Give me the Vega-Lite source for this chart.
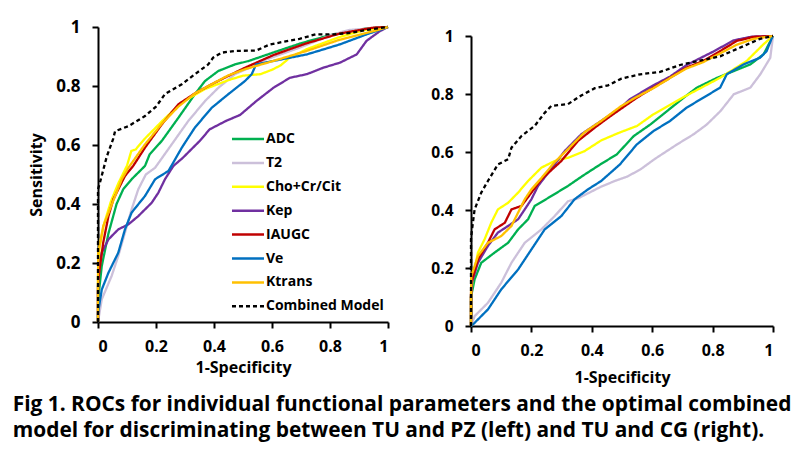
{
  "$schema": "https://vega.github.io/schema/vega-lite/v6.json",
  "background": "white",
  "padding": {"left": 12, "top": 18, "right": 5, "bottom": 5},
  "bounds": "flush",
  "spacing": 83,
  "config": {
    "font": "Open Sans",
    "view": {"stroke": null},
    "axis": {"domainColor": "black", "domainWidth": 2, "tickColor": "black", "tickWidth": 2, "tickSize": 6, "labelColor": "black", "labelFont": "Open Sans", "labelFontWeight": "bold", "labelFontSize": 16, "titleFont": "Open Sans", "titleFontWeight": "bold", "titleFontSize": 16, "titleColor": "black", "grid": false, "labelPadding": 10}
  },
  "title": {
    "text": ["Fig 1. ROCs for individual functional parameters and the optimal combined", "model for discriminating between TU and PZ (left) and TU and CG (right)."],
    "orient": "bottom", "anchor": "start", "font": "Open Sans", "fontSize": 20.9, "fontWeight": "bold", "color": "black", "lineHeight": 26, "offset": 9, "dx": -16
  },
  "datasets": {
    "left": [
      {"series": "ADC", "fpr": 0, "tpr": 0}, {"series": "ADC", "fpr": 0.003, "tpr": 0.1}, {"series": "ADC", "fpr": 0.013, "tpr": 0.19}, {"series": "ADC", "fpr": 0.036, "tpr": 0.3}, {"series": "ADC", "fpr": 0.064, "tpr": 0.4}, {"series": "ADC", "fpr": 0.087, "tpr": 0.45}, {"series": "ADC", "fpr": 0.116, "tpr": 0.484}, {"series": "ADC", "fpr": 0.162, "tpr": 0.529}, {"series": "ADC", "fpr": 0.178, "tpr": 0.568}, {"series": "ADC", "fpr": 0.22, "tpr": 0.614}, {"series": "ADC", "fpr": 0.277, "tpr": 0.692}, {"series": "ADC", "fpr": 0.334, "tpr": 0.772}, {"series": "ADC", "fpr": 0.369, "tpr": 0.817}, {"series": "ADC", "fpr": 0.415, "tpr": 0.851}, {"series": "ADC", "fpr": 0.472, "tpr": 0.873}, {"series": "ADC", "fpr": 0.52, "tpr": 0.885}, {"series": "ADC", "fpr": 0.603, "tpr": 0.913}, {"series": "ADC", "fpr": 0.7, "tpr": 0.945}, {"series": "ADC", "fpr": 0.81, "tpr": 0.975}, {"series": "ADC", "fpr": 0.925, "tpr": 0.995}, {"series": "ADC", "fpr": 1, "tpr": 1},
      {"series": "T2", "fpr": 0, "tpr": 0}, {"series": "T2", "fpr": 0.013, "tpr": 0.077}, {"series": "T2", "fpr": 0.047, "tpr": 0.156}, {"series": "T2", "fpr": 0.07, "tpr": 0.224}, {"series": "T2", "fpr": 0.093, "tpr": 0.303}, {"series": "T2", "fpr": 0.116, "tpr": 0.382}, {"series": "T2", "fpr": 0.139, "tpr": 0.45}, {"series": "T2", "fpr": 0.165, "tpr": 0.5}, {"series": "T2", "fpr": 0.197, "tpr": 0.523}, {"series": "T2", "fpr": 0.254, "tpr": 0.602}, {"series": "T2", "fpr": 0.311, "tpr": 0.681}, {"series": "T2", "fpr": 0.369, "tpr": 0.749}, {"series": "T2", "fpr": 0.415, "tpr": 0.794}, {"series": "T2", "fpr": 0.472, "tpr": 0.84}, {"series": "T2", "fpr": 0.523, "tpr": 0.862}, {"series": "T2", "fpr": 0.58, "tpr": 0.89}, {"series": "T2", "fpr": 0.695, "tpr": 0.93}, {"series": "T2", "fpr": 0.81, "tpr": 0.975}, {"series": "T2", "fpr": 0.868, "tpr": 0.99}, {"series": "T2", "fpr": 1, "tpr": 1},
      {"series": "Cho+Cr/Cit", "fpr": 0, "tpr": 0}, {"series": "Cho+Cr/Cit", "fpr": 0, "tpr": 0.15}, {"series": "Cho+Cr/Cit", "fpr": 0.005, "tpr": 0.25}, {"series": "Cho+Cr/Cit", "fpr": 0.02, "tpr": 0.33}, {"series": "Cho+Cr/Cit", "fpr": 0.045, "tpr": 0.41}, {"series": "Cho+Cr/Cit", "fpr": 0.07, "tpr": 0.47}, {"series": "Cho+Cr/Cit", "fpr": 0.1, "tpr": 0.53}, {"series": "Cho+Cr/Cit", "fpr": 0.115, "tpr": 0.58}, {"series": "Cho+Cr/Cit", "fpr": 0.13, "tpr": 0.585}, {"series": "Cho+Cr/Cit", "fpr": 0.16, "tpr": 0.62}, {"series": "Cho+Cr/Cit", "fpr": 0.22, "tpr": 0.68}, {"series": "Cho+Cr/Cit", "fpr": 0.29, "tpr": 0.745}, {"series": "Cho+Cr/Cit", "fpr": 0.37, "tpr": 0.79}, {"series": "Cho+Cr/Cit", "fpr": 0.45, "tpr": 0.82}, {"series": "Cho+Cr/Cit", "fpr": 0.5, "tpr": 0.835}, {"series": "Cho+Cr/Cit", "fpr": 0.56, "tpr": 0.84}, {"series": "Cho+Cr/Cit", "fpr": 0.6, "tpr": 0.855}, {"series": "Cho+Cr/Cit", "fpr": 0.63, "tpr": 0.87}, {"series": "Cho+Cr/Cit", "fpr": 0.66, "tpr": 0.895}, {"series": "Cho+Cr/Cit", "fpr": 0.72, "tpr": 0.925}, {"series": "Cho+Cr/Cit", "fpr": 0.83, "tpr": 0.965}, {"series": "Cho+Cr/Cit", "fpr": 0.92, "tpr": 0.99}, {"series": "Cho+Cr/Cit", "fpr": 1, "tpr": 1},
      {"series": "Kep", "fpr": 0, "tpr": 0}, {"series": "Kep", "fpr": 0, "tpr": 0.12}, {"series": "Kep", "fpr": 0.005, "tpr": 0.19}, {"series": "Kep", "fpr": 0.013, "tpr": 0.235}, {"series": "Kep", "fpr": 0.036, "tpr": 0.28}, {"series": "Kep", "fpr": 0.07, "tpr": 0.314}, {"series": "Kep", "fpr": 0.105, "tpr": 0.331}, {"series": "Kep", "fpr": 0.139, "tpr": 0.359}, {"series": "Kep", "fpr": 0.185, "tpr": 0.404}, {"series": "Kep", "fpr": 0.208, "tpr": 0.438}, {"series": "Kep", "fpr": 0.231, "tpr": 0.484}, {"series": "Kep", "fpr": 0.26, "tpr": 0.529}, {"series": "Kep", "fpr": 0.293, "tpr": 0.557}, {"series": "Kep", "fpr": 0.35, "tpr": 0.613}, {"series": "Kep", "fpr": 0.385, "tpr": 0.653}, {"series": "Kep", "fpr": 0.44, "tpr": 0.681}, {"series": "Kep", "fpr": 0.49, "tpr": 0.702}, {"series": "Kep", "fpr": 0.546, "tpr": 0.749}, {"series": "Kep", "fpr": 0.605, "tpr": 0.794}, {"series": "Kep", "fpr": 0.662, "tpr": 0.828}, {"series": "Kep", "fpr": 0.72, "tpr": 0.84}, {"series": "Kep", "fpr": 0.777, "tpr": 0.862}, {"series": "Kep", "fpr": 0.834, "tpr": 0.879}, {"series": "Kep", "fpr": 0.892, "tpr": 0.907}, {"series": "Kep", "fpr": 0.926, "tpr": 0.953}, {"series": "Kep", "fpr": 0.972, "tpr": 0.986}, {"series": "Kep", "fpr": 1, "tpr": 1},
      {"series": "IAUGC", "fpr": 0, "tpr": 0}, {"series": "IAUGC", "fpr": 0, "tpr": 0.1}, {"series": "IAUGC", "fpr": 0.001, "tpr": 0.145}, {"series": "IAUGC", "fpr": 0.018, "tpr": 0.269}, {"series": "IAUGC", "fpr": 0.036, "tpr": 0.359}, {"series": "IAUGC", "fpr": 0.053, "tpr": 0.416}, {"series": "IAUGC", "fpr": 0.07, "tpr": 0.45}, {"series": "IAUGC", "fpr": 0.093, "tpr": 0.495}, {"series": "IAUGC", "fpr": 0.122, "tpr": 0.53}, {"series": "IAUGC", "fpr": 0.162, "tpr": 0.591}, {"series": "IAUGC", "fpr": 0.22, "tpr": 0.67}, {"series": "IAUGC", "fpr": 0.277, "tpr": 0.738}, {"series": "IAUGC", "fpr": 0.334, "tpr": 0.775}, {"series": "IAUGC", "fpr": 0.392, "tpr": 0.806}, {"series": "IAUGC", "fpr": 0.449, "tpr": 0.834}, {"series": "IAUGC", "fpr": 0.507, "tpr": 0.862}, {"series": "IAUGC", "fpr": 0.605, "tpr": 0.905}, {"series": "IAUGC", "fpr": 0.72, "tpr": 0.945}, {"series": "IAUGC", "fpr": 0.834, "tpr": 0.978}, {"series": "IAUGC", "fpr": 0.95, "tpr": 0.998}, {"series": "IAUGC", "fpr": 1, "tpr": 1},
      {"series": "Ve", "fpr": 0, "tpr": 0}, {"series": "Ve", "fpr": 0, "tpr": 0.03}, {"series": "Ve", "fpr": 0.013, "tpr": 0.11}, {"series": "Ve", "fpr": 0.036, "tpr": 0.167}, {"series": "Ve", "fpr": 0.07, "tpr": 0.235}, {"series": "Ve", "fpr": 0.093, "tpr": 0.314}, {"series": "Ve", "fpr": 0.116, "tpr": 0.371}, {"series": "Ve", "fpr": 0.162, "tpr": 0.427}, {"series": "Ve", "fpr": 0.197, "tpr": 0.484}, {"series": "Ve", "fpr": 0.243, "tpr": 0.512}, {"series": "Ve", "fpr": 0.289, "tpr": 0.591}, {"series": "Ve", "fpr": 0.334, "tpr": 0.659}, {"series": "Ve", "fpr": 0.392, "tpr": 0.726}, {"series": "Ve", "fpr": 0.449, "tpr": 0.772}, {"series": "Ve", "fpr": 0.507, "tpr": 0.817}, {"series": "Ve", "fpr": 0.53, "tpr": 0.84}, {"series": "Ve", "fpr": 0.545, "tpr": 0.873}, {"series": "Ve", "fpr": 0.605, "tpr": 0.885}, {"series": "Ve", "fpr": 0.72, "tpr": 0.907}, {"series": "Ve", "fpr": 0.834, "tpr": 0.941}, {"series": "Ve", "fpr": 0.926, "tpr": 0.975}, {"series": "Ve", "fpr": 1, "tpr": 1},
      {"series": "Ktrans", "fpr": 0, "tpr": 0}, {"series": "Ktrans", "fpr": 0, "tpr": 0.15}, {"series": "Ktrans", "fpr": 0.001, "tpr": 0.235}, {"series": "Ktrans", "fpr": 0.018, "tpr": 0.325}, {"series": "Ktrans", "fpr": 0.041, "tpr": 0.382}, {"series": "Ktrans", "fpr": 0.059, "tpr": 0.427}, {"series": "Ktrans", "fpr": 0.082, "tpr": 0.484}, {"series": "Ktrans", "fpr": 0.105, "tpr": 0.523}, {"series": "Ktrans", "fpr": 0.162, "tpr": 0.602}, {"series": "Ktrans", "fpr": 0.22, "tpr": 0.672}, {"series": "Ktrans", "fpr": 0.277, "tpr": 0.73}, {"series": "Ktrans", "fpr": 0.334, "tpr": 0.775}, {"series": "Ktrans", "fpr": 0.392, "tpr": 0.806}, {"series": "Ktrans", "fpr": 0.449, "tpr": 0.836}, {"series": "Ktrans", "fpr": 0.507, "tpr": 0.857}, {"series": "Ktrans", "fpr": 0.605, "tpr": 0.885}, {"series": "Ktrans", "fpr": 0.72, "tpr": 0.919}, {"series": "Ktrans", "fpr": 0.834, "tpr": 0.957}, {"series": "Ktrans", "fpr": 0.95, "tpr": 0.986}, {"series": "Ktrans", "fpr": 1, "tpr": 1},
      {"series": "Combined Model", "fpr": 0, "tpr": 0}, {"series": "Combined Model", "fpr": 0, "tpr": 0.45}, {"series": "Combined Model", "fpr": 0.006, "tpr": 0.47}, {"series": "Combined Model", "fpr": 0.03, "tpr": 0.56}, {"series": "Combined Model", "fpr": 0.052, "tpr": 0.62}, {"series": "Combined Model", "fpr": 0.059, "tpr": 0.647}, {"series": "Combined Model", "fpr": 0.105, "tpr": 0.664}, {"series": "Combined Model", "fpr": 0.162, "tpr": 0.698}, {"series": "Combined Model", "fpr": 0.2, "tpr": 0.73}, {"series": "Combined Model", "fpr": 0.214, "tpr": 0.749}, {"series": "Combined Model", "fpr": 0.231, "tpr": 0.773}, {"series": "Combined Model", "fpr": 0.289, "tpr": 0.806}, {"series": "Combined Model", "fpr": 0.334, "tpr": 0.84}, {"series": "Combined Model", "fpr": 0.38, "tpr": 0.873}, {"series": "Combined Model", "fpr": 0.397, "tpr": 0.896}, {"series": "Combined Model", "fpr": 0.427, "tpr": 0.913}, {"series": "Combined Model", "fpr": 0.472, "tpr": 0.919}, {"series": "Combined Model", "fpr": 0.545, "tpr": 0.92}, {"series": "Combined Model", "fpr": 0.59, "tpr": 0.94}, {"series": "Combined Model", "fpr": 0.64, "tpr": 0.95}, {"series": "Combined Model", "fpr": 0.695, "tpr": 0.96}, {"series": "Combined Model", "fpr": 0.75, "tpr": 0.975}, {"series": "Combined Model", "fpr": 0.81, "tpr": 0.975}, {"series": "Combined Model", "fpr": 0.87, "tpr": 0.98}, {"series": "Combined Model", "fpr": 0.925, "tpr": 0.99}, {"series": "Combined Model", "fpr": 1, "tpr": 1}
    ],
    "right": [
      {"series": "ADC", "fpr": 0, "tpr": 0}, {"series": "ADC", "fpr": 0, "tpr": 0.1}, {"series": "ADC", "fpr": 0.012, "tpr": 0.161}, {"series": "ADC", "fpr": 0.034, "tpr": 0.218}, {"series": "ADC", "fpr": 0.078, "tpr": 0.253}, {"series": "ADC", "fpr": 0.123, "tpr": 0.287}, {"series": "ADC", "fpr": 0.156, "tpr": 0.333}, {"series": "ADC", "fpr": 0.189, "tpr": 0.368}, {"series": "ADC", "fpr": 0.211, "tpr": 0.414}, {"series": "ADC", "fpr": 0.266, "tpr": 0.448}, {"series": "ADC", "fpr": 0.321, "tpr": 0.483}, {"series": "ADC", "fpr": 0.373, "tpr": 0.52}, {"series": "ADC", "fpr": 0.428, "tpr": 0.557}, {"series": "ADC", "fpr": 0.483, "tpr": 0.592}, {"series": "ADC", "fpr": 0.539, "tpr": 0.655}, {"series": "ADC", "fpr": 0.594, "tpr": 0.695}, {"series": "ADC", "fpr": 0.649, "tpr": 0.741}, {"series": "ADC", "fpr": 0.704, "tpr": 0.787}, {"series": "ADC", "fpr": 0.748, "tpr": 0.822}, {"series": "ADC", "fpr": 0.815, "tpr": 0.856}, {"series": "ADC", "fpr": 0.87, "tpr": 0.879}, {"series": "ADC", "fpr": 0.925, "tpr": 0.902}, {"series": "ADC", "fpr": 0.969, "tpr": 0.937}, {"series": "ADC", "fpr": 1, "tpr": 1},
      {"series": "T2", "fpr": 0, "tpr": 0}, {"series": "T2", "fpr": 0.012, "tpr": 0.034}, {"series": "T2", "fpr": 0.056, "tpr": 0.08}, {"series": "T2", "fpr": 0.1, "tpr": 0.149}, {"series": "T2", "fpr": 0.134, "tpr": 0.218}, {"series": "T2", "fpr": 0.178, "tpr": 0.287}, {"series": "T2", "fpr": 0.233, "tpr": 0.333}, {"series": "T2", "fpr": 0.277, "tpr": 0.379}, {"series": "T2", "fpr": 0.321, "tpr": 0.43}, {"series": "T2", "fpr": 0.354, "tpr": 0.44}, {"series": "T2", "fpr": 0.43, "tpr": 0.48}, {"series": "T2", "fpr": 0.476, "tpr": 0.5}, {"series": "T2", "fpr": 0.517, "tpr": 0.515}, {"series": "T2", "fpr": 0.561, "tpr": 0.54}, {"series": "T2", "fpr": 0.61, "tpr": 0.577}, {"series": "T2", "fpr": 0.682, "tpr": 0.626}, {"series": "T2", "fpr": 0.737, "tpr": 0.661}, {"series": "T2", "fpr": 0.781, "tpr": 0.695}, {"series": "T2", "fpr": 0.826, "tpr": 0.741}, {"series": "T2", "fpr": 0.87, "tpr": 0.799}, {"series": "T2", "fpr": 0.925, "tpr": 0.822}, {"series": "T2", "fpr": 0.958, "tpr": 0.868}, {"series": "T2", "fpr": 0.991, "tpr": 0.925}, {"series": "T2", "fpr": 1, "tpr": 1},
      {"series": "Cho+Cr/Cit", "fpr": 0, "tpr": 0}, {"series": "Cho+Cr/Cit", "fpr": 0, "tpr": 0.1}, {"series": "Cho+Cr/Cit", "fpr": 0.005, "tpr": 0.16}, {"series": "Cho+Cr/Cit", "fpr": 0.023, "tpr": 0.253}, {"series": "Cho+Cr/Cit", "fpr": 0.045, "tpr": 0.299}, {"series": "Cho+Cr/Cit", "fpr": 0.067, "tpr": 0.356}, {"series": "Cho+Cr/Cit", "fpr": 0.089, "tpr": 0.402}, {"series": "Cho+Cr/Cit", "fpr": 0.123, "tpr": 0.425}, {"series": "Cho+Cr/Cit", "fpr": 0.156, "tpr": 0.46}, {"series": "Cho+Cr/Cit", "fpr": 0.189, "tpr": 0.5}, {"series": "Cho+Cr/Cit", "fpr": 0.233, "tpr": 0.546}, {"series": "Cho+Cr/Cit", "fpr": 0.277, "tpr": 0.569}, {"series": "Cho+Cr/Cit", "fpr": 0.321, "tpr": 0.58}, {"series": "Cho+Cr/Cit", "fpr": 0.376, "tpr": 0.603}, {"series": "Cho+Cr/Cit", "fpr": 0.431, "tpr": 0.64}, {"series": "Cho+Cr/Cit", "fpr": 0.487, "tpr": 0.665}, {"series": "Cho+Cr/Cit", "fpr": 0.55, "tpr": 0.69}, {"series": "Cho+Cr/Cit", "fpr": 0.604, "tpr": 0.73}, {"series": "Cho+Cr/Cit", "fpr": 0.714, "tpr": 0.795}, {"series": "Cho+Cr/Cit", "fpr": 0.825, "tpr": 0.856}, {"series": "Cho+Cr/Cit", "fpr": 0.913, "tpr": 0.914}, {"series": "Cho+Cr/Cit", "fpr": 0.968, "tpr": 0.971}, {"series": "Cho+Cr/Cit", "fpr": 1, "tpr": 1},
      {"series": "Kep", "fpr": 0, "tpr": 0}, {"series": "Kep", "fpr": 0, "tpr": 0.1}, {"series": "Kep", "fpr": 0.003, "tpr": 0.15}, {"series": "Kep", "fpr": 0.023, "tpr": 0.218}, {"series": "Kep", "fpr": 0.056, "tpr": 0.276}, {"series": "Kep", "fpr": 0.089, "tpr": 0.322}, {"series": "Kep", "fpr": 0.123, "tpr": 0.345}, {"series": "Kep", "fpr": 0.156, "tpr": 0.368}, {"series": "Kep", "fpr": 0.178, "tpr": 0.402}, {"series": "Kep", "fpr": 0.2, "tpr": 0.437}, {"series": "Kep", "fpr": 0.222, "tpr": 0.483}, {"series": "Kep", "fpr": 0.277, "tpr": 0.557}, {"series": "Kep", "fpr": 0.31, "tpr": 0.603}, {"series": "Kep", "fpr": 0.365, "tpr": 0.661}, {"series": "Kep", "fpr": 0.431, "tpr": 0.707}, {"series": "Kep", "fpr": 0.498, "tpr": 0.755}, {"series": "Kep", "fpr": 0.526, "tpr": 0.782}, {"series": "Kep", "fpr": 0.604, "tpr": 0.83}, {"series": "Kep", "fpr": 0.659, "tpr": 0.86}, {"series": "Kep", "fpr": 0.714, "tpr": 0.9}, {"series": "Kep", "fpr": 0.8, "tpr": 0.945}, {"series": "Kep", "fpr": 0.87, "tpr": 0.985}, {"series": "Kep", "fpr": 0.93, "tpr": 0.998}, {"series": "Kep", "fpr": 1, "tpr": 1},
      {"series": "IAUGC", "fpr": 0, "tpr": 0}, {"series": "IAUGC", "fpr": 0, "tpr": 0.1}, {"series": "IAUGC", "fpr": 0.001, "tpr": 0.149}, {"series": "IAUGC", "fpr": 0.023, "tpr": 0.23}, {"series": "IAUGC", "fpr": 0.056, "tpr": 0.287}, {"series": "IAUGC", "fpr": 0.078, "tpr": 0.333}, {"series": "IAUGC", "fpr": 0.112, "tpr": 0.356}, {"series": "IAUGC", "fpr": 0.134, "tpr": 0.402}, {"series": "IAUGC", "fpr": 0.167, "tpr": 0.414}, {"series": "IAUGC", "fpr": 0.2, "tpr": 0.46}, {"series": "IAUGC", "fpr": 0.233, "tpr": 0.506}, {"series": "IAUGC", "fpr": 0.299, "tpr": 0.569}, {"series": "IAUGC", "fpr": 0.354, "tpr": 0.638}, {"series": "IAUGC", "fpr": 0.41, "tpr": 0.684}, {"series": "IAUGC", "fpr": 0.454, "tpr": 0.718}, {"series": "IAUGC", "fpr": 0.498, "tpr": 0.75}, {"series": "IAUGC", "fpr": 0.549, "tpr": 0.787}, {"series": "IAUGC", "fpr": 0.604, "tpr": 0.822}, {"series": "IAUGC", "fpr": 0.659, "tpr": 0.856}, {"series": "IAUGC", "fpr": 0.714, "tpr": 0.891}, {"series": "IAUGC", "fpr": 0.769, "tpr": 0.914}, {"series": "IAUGC", "fpr": 0.825, "tpr": 0.948}, {"series": "IAUGC", "fpr": 0.88, "tpr": 0.983}, {"series": "IAUGC", "fpr": 0.935, "tpr": 0.997}, {"series": "IAUGC", "fpr": 1, "tpr": 1},
      {"series": "Ve", "fpr": 0, "tpr": 0}, {"series": "Ve", "fpr": 0.012, "tpr": 0.011}, {"series": "Ve", "fpr": 0.056, "tpr": 0.057}, {"series": "Ve", "fpr": 0.1, "tpr": 0.126}, {"series": "Ve", "fpr": 0.156, "tpr": 0.195}, {"series": "Ve", "fpr": 0.2, "tpr": 0.264}, {"series": "Ve", "fpr": 0.244, "tpr": 0.333}, {"series": "Ve", "fpr": 0.299, "tpr": 0.379}, {"series": "Ve", "fpr": 0.343, "tpr": 0.437}, {"series": "Ve", "fpr": 0.387, "tpr": 0.471}, {"series": "Ve", "fpr": 0.431, "tpr": 0.5}, {"series": "Ve", "fpr": 0.493, "tpr": 0.557}, {"series": "Ve", "fpr": 0.549, "tpr": 0.626}, {"series": "Ve", "fpr": 0.604, "tpr": 0.672}, {"series": "Ve", "fpr": 0.659, "tpr": 0.707}, {"series": "Ve", "fpr": 0.714, "tpr": 0.753}, {"series": "Ve", "fpr": 0.769, "tpr": 0.787}, {"series": "Ve", "fpr": 0.825, "tpr": 0.822}, {"series": "Ve", "fpr": 0.847, "tpr": 0.868}, {"series": "Ve", "fpr": 0.902, "tpr": 0.902}, {"series": "Ve", "fpr": 0.957, "tpr": 0.925}, {"series": "Ve", "fpr": 0.979, "tpr": 0.948}, {"series": "Ve", "fpr": 0.995, "tpr": 0.99}, {"series": "Ve", "fpr": 1, "tpr": 1},
      {"series": "Ktrans", "fpr": 0, "tpr": 0}, {"series": "Ktrans", "fpr": 0, "tpr": 0.1}, {"series": "Ktrans", "fpr": 0.001, "tpr": 0.172}, {"series": "Ktrans", "fpr": 0.023, "tpr": 0.241}, {"series": "Ktrans", "fpr": 0.056, "tpr": 0.287}, {"series": "Ktrans", "fpr": 0.1, "tpr": 0.31}, {"series": "Ktrans", "fpr": 0.134, "tpr": 0.345}, {"series": "Ktrans", "fpr": 0.156, "tpr": 0.391}, {"series": "Ktrans", "fpr": 0.178, "tpr": 0.437}, {"series": "Ktrans", "fpr": 0.2, "tpr": 0.471}, {"series": "Ktrans", "fpr": 0.233, "tpr": 0.51}, {"series": "Ktrans", "fpr": 0.277, "tpr": 0.565}, {"series": "Ktrans", "fpr": 0.321, "tpr": 0.61}, {"series": "Ktrans", "fpr": 0.376, "tpr": 0.668}, {"series": "Ktrans", "fpr": 0.431, "tpr": 0.707}, {"series": "Ktrans", "fpr": 0.498, "tpr": 0.759}, {"series": "Ktrans", "fpr": 0.549, "tpr": 0.79}, {"series": "Ktrans", "fpr": 0.604, "tpr": 0.82}, {"series": "Ktrans", "fpr": 0.659, "tpr": 0.855}, {"series": "Ktrans", "fpr": 0.714, "tpr": 0.888}, {"series": "Ktrans", "fpr": 0.769, "tpr": 0.91}, {"series": "Ktrans", "fpr": 0.825, "tpr": 0.94}, {"series": "Ktrans", "fpr": 0.88, "tpr": 0.97}, {"series": "Ktrans", "fpr": 0.935, "tpr": 0.99}, {"series": "Ktrans", "fpr": 1, "tpr": 1},
      {"series": "Combined Model", "fpr": 0, "tpr": 0}, {"series": "Combined Model", "fpr": 0, "tpr": 0.3}, {"series": "Combined Model", "fpr": 0.003, "tpr": 0.33}, {"series": "Combined Model", "fpr": 0.012, "tpr": 0.402}, {"series": "Combined Model", "fpr": 0.034, "tpr": 0.46}, {"series": "Combined Model", "fpr": 0.056, "tpr": 0.5}, {"series": "Combined Model", "fpr": 0.089, "tpr": 0.557}, {"series": "Combined Model", "fpr": 0.123, "tpr": 0.575}, {"series": "Combined Model", "fpr": 0.134, "tpr": 0.615}, {"series": "Combined Model", "fpr": 0.167, "tpr": 0.655}, {"series": "Combined Model", "fpr": 0.211, "tpr": 0.69}, {"series": "Combined Model", "fpr": 0.244, "tpr": 0.735}, {"series": "Combined Model", "fpr": 0.266, "tpr": 0.759}, {"series": "Combined Model", "fpr": 0.321, "tpr": 0.765}, {"series": "Combined Model", "fpr": 0.365, "tpr": 0.795}, {"series": "Combined Model", "fpr": 0.41, "tpr": 0.82}, {"series": "Combined Model", "fpr": 0.454, "tpr": 0.83}, {"series": "Combined Model", "fpr": 0.498, "tpr": 0.853}, {"series": "Combined Model", "fpr": 0.56, "tpr": 0.868}, {"series": "Combined Model", "fpr": 0.626, "tpr": 0.876}, {"series": "Combined Model", "fpr": 0.692, "tpr": 0.9}, {"series": "Combined Model", "fpr": 0.758, "tpr": 0.915}, {"series": "Combined Model", "fpr": 0.825, "tpr": 0.93}, {"series": "Combined Model", "fpr": 0.869, "tpr": 0.95}, {"series": "Combined Model", "fpr": 0.913, "tpr": 0.97}, {"series": "Combined Model", "fpr": 0.957, "tpr": 0.99}, {"series": "Combined Model", "fpr": 1, "tpr": 1}
    ]
  },
  "resolve": {"legend": {"color": "independent", "strokeDash": "independent"}},
  "hconcat": [
    {
      "width": 290, "height": 295,
      "data": {"name": "left"},
      "mark": {"type": "line", "strokeWidth": 2.3},
      "encoding": {
        "x": {"field": "fpr", "type": "quantitative", "scale": {"domain": [0, 1]}, "axis": {"values": [0, 0.2, 0.4, 0.6, 0.8, 1], "format": "~g", "title": "1-Specificity", "titlePadding": 5}},
        "y": {"field": "tpr", "type": "quantitative", "scale": {"domain": [0, 1]}, "axis": {"values": [0, 0.2, 0.4, 0.6, 0.8, 1], "format": "~g", "title": "Sensitivity", "labelFontSize": 17, "labelPadding": 12, "titlePadding": 11}},
        "color": {"field": "series", "type": "nominal",
          "scale": {"domain": ["ADC", "T2", "Cho+Cr/Cit", "Kep", "IAUGC", "Ve", "Ktrans", "Combined Model"], "range": ["#00B050", "#CCC0DA", "#FFFF00", "#7030A0", "#C00000", "#0070C0", "#FFC000", "#000000"]},
          "legend": {"title": null, "orient": "none", "legendX": 142, "legendY": 104, "symbolType": "M-2.5,0H2.5", "symbolSize": 164, "symbolStrokeWidth": 2.5, "labelFontSize": 14, "labelFontWeight": "bold", "labelColor": "black", "labelFont": "Open Sans", "padding": 0, "labelOffset": 10, "rowPadding": 8.9}},
        "strokeDash": {"field": "series", "type": "nominal",
          "scale": {"domain": ["ADC", "T2", "Cho+Cr/Cit", "Kep", "IAUGC", "Ve", "Ktrans", "Combined Model"], "range": [[1, 0], [1, 0], [1, 0], [1, 0], [1, 0], [1, 0], [1, 0], [4, 3]]},
          "legend": {"title": null, "orient": "none", "legendX": 142, "legendY": 104, "symbolType": "M-2.5,0H2.5", "symbolSize": 164, "symbolStrokeWidth": 2.5, "labelFontSize": 14, "labelFontWeight": "bold", "labelColor": "black", "labelFont": "Open Sans", "padding": 0, "labelOffset": 10, "rowPadding": 8.9}},
        "order": {"value": null}
      }
    },
    {
      "width": 302, "height": 299,
      "data": {"name": "right"},
      "mark": {"type": "line", "strokeWidth": 2.3},
      "encoding": {
        "x": {"field": "fpr", "type": "quantitative", "scale": {"domain": [0, 1]}, "axis": {"values": [0, 0.2, 0.4, 0.6, 0.8, 1], "format": "~g", "title": "1-Specificity", "titlePadding": 11}},
        "y": {"field": "tpr", "type": "quantitative", "scale": {"domain": [0, 1], "range": [299, 9]}, "axis": {"values": [0, 0.2, 0.4, 0.6, 0.8, 1], "format": "~g", "title": null, "labelFontSize": 15.5, "labelPadding": 12}},
        "color": {"field": "series", "type": "nominal",
          "scale": {"domain": ["ADC", "T2", "Cho+Cr/Cit", "Kep", "IAUGC", "Ve", "Ktrans", "Combined Model"], "range": ["#00B050", "#CCC0DA", "#FFFF00", "#7030A0", "#C00000", "#0070C0", "#FFC000", "#000000"]},
          "legend": null},
        "strokeDash": {"field": "series", "type": "nominal",
          "scale": {"domain": ["ADC", "T2", "Cho+Cr/Cit", "Kep", "IAUGC", "Ve", "Ktrans", "Combined Model"], "range": [[1, 0], [1, 0], [1, 0], [1, 0], [1, 0], [1, 0], [1, 0], [4, 3]]},
          "legend": null},
        "order": {"value": null}
      }
    }
  ]
}
